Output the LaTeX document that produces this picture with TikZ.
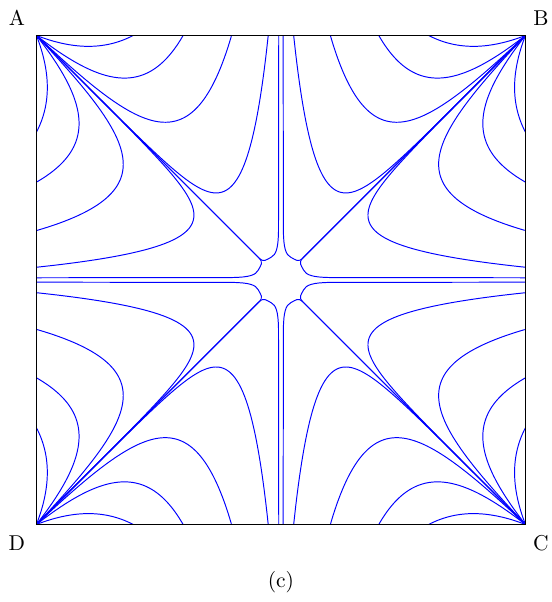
\documentclass[tikz,border=0pt]{standalone}
\usepackage{tikz}
\tikzset{
  feld/.style={blue,line width=0.45pt},
  rahmen/.style={black,line width=0.5pt},
}
% Feldlinie von A zum oberen Rand: Endpunkt #1, Steilheit #2
\newcommand{\feldlinie}[2]{%
  \draw[feld] plot[domain=0:#1,samples=120,smooth]
    ({-1+\x},{1-\x+#1*(exp(max(#2*(\x-#1),-9))-exp(max(-#2*#1,-9)))/(1-exp(max(-#2*#1,-9)))});
}
% ein Sektor zwischen A, Mitte oben und Zentrum
\newcommand{\sektor}{%
  \feldlinie{0.396}{2.3}
  \feldlinie{0.600}{4.2}
  \feldlinie{0.798}{5.5}
  \feldlinie{0.948}{11}
  \draw[feld] (-1,1) -- (-0.09,0.09) .. controls (-0.07,0.07) and (-0.06,0.083) .. (-0.04,0.093)
    .. controls (-0.02,0.103) and (-0.011,0.13) .. (-0.010,0.2) -- (-0.009,1);
}

\begin{document}
\begin{tikzpicture}[x=4cm,y=4cm]
  \useasboundingbox (-1.149,-1.317) rectangle (1.108,1.145);
  % acht Sektoren durch Spiegelung
  \foreach \sx in {1,-1} {
    \foreach \sy in {1,-1} {
      \begin{scope}[xscale=\sx,yscale=\sy]
        \sektor
        \begin{scope}[cm={0,-1,-1,0,(0,0)}]
          \sektor
        \end{scope}
      \end{scope}
    }
  }
  \draw[rahmen] (-1,-1) rectangle (1,1);
  \node (labA) at (-1.080,1.072) {A};
  \node (labB) at (1.063,1.072) {B};
  \node (labC) at (1.063,-1.076) {C};
  \node (labD) at (-1.080,-1.076) {D};
  \node (titel) at (0,-1.237) {(c)};
\end{tikzpicture}
\end{document}
